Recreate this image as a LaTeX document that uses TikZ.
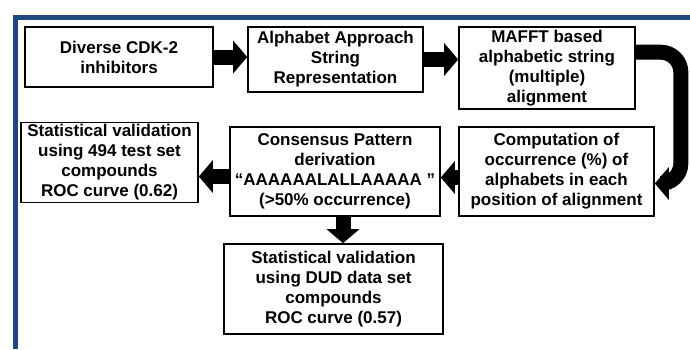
\documentclass[tikz,border=0pt]{standalone}
\usepackage{fontspec}
\setmainfont{Liberation Sans}
\usepackage{xcolor}
\usetikzlibrary{positioning,arrows.meta,calc}

\definecolor{frameblue}{RGB}{31,73,125}

\begin{document}
\begin{tikzpicture}[x=1pt, y=-1pt,
    every node/.style={font=\bfseries\fontsize{17}{20}\selectfont, align=center},
    box/.style={draw, line width=1.6pt, fill=white, inner sep=2pt},
    fatarrow/.style={line width=15pt, -{Triangle[length=14pt, width=32pt]}}]
  \useasboundingbox (0,0) rectangle (690,349);

  % frame lines
  \fill[frameblue] (13,15) rectangle (690,20);
  \fill[frameblue] (13,15) rectangle (18,349);

  \node[box, minimum width=188pt, minimum height=60pt] (divs)
        at (119,57) {Diverse CDK-2\\inhibitors};
  \node[box, minimum width=175pt, minimum height=65pt] (alpha)
        at (335.5,59.5) {Alphabet Approach\\String\\Representation};
  \node[box, minimum width=176pt, minimum height=82pt] (mafft)
        at (547,68) {MAFFT based\\alphabetic string\\(multiple)\\alignment};
  \node[box, minimum width=195pt, minimum height=89pt] (comp)
        at (556.5,171.5) {Computation of\\occurrence (\%) of\\alphabets in each\\position of alignment};
  \node[box, minimum width=210pt, minimum height=89pt] (cons)
        at (335,171.5) {Consensus Pattern\\derivation\\“AAAAAALALLAAAAA ”\\(>50\% occurrence)};
  \node[box, minimum width=177pt, minimum height=71pt] (stat)
        at (109.5,162.5) {Statistical validation\\using 494 test set\\compounds\\ROC curve (0.62)};
  \node[box, minimum width=219pt, minimum height=90pt] (dud)
        at (333.5,289) {Statistical validation\\using DUD data set\\compounds\\ROC curve (0.57)};

  \draw[fatarrow] (divs.east) -- (divs.east -| alpha.west);
  \draw[fatarrow] (alpha.east) -- (alpha.east -| mafft.west);
  \draw[fatarrow, rounded corners=20pt] ([yshift=-26pt]mafft.north east)
        -- ++(45,0) |- ([yshift=-12pt]comp.east);
  \draw[fatarrow] ([yshift=-6pt]comp.west) -- ([yshift=-6pt]comp.west -| cons.east);
  \draw[fatarrow] ([yshift=-5pt]cons.west) -- ([yshift=-5pt]cons.west -| stat.east);
  \draw[fatarrow] ([xshift=8pt]cons.south) -- ([xshift=8pt]cons.south |- dud.north);
\end{tikzpicture}
\end{document}
